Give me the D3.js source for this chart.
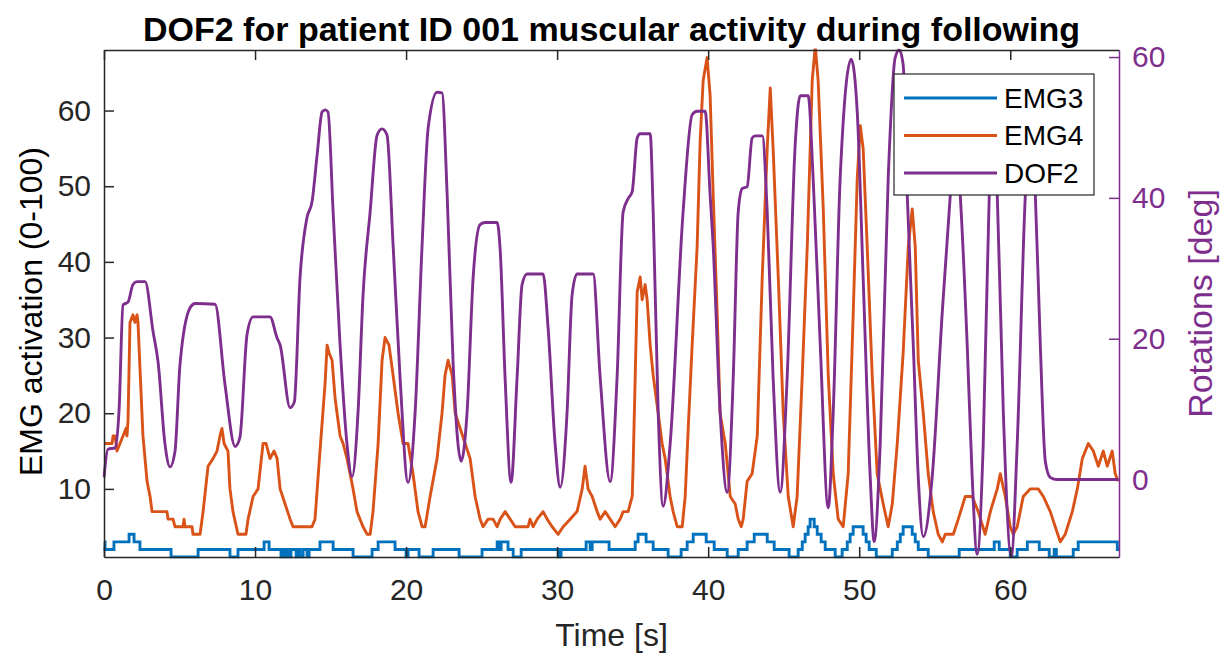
<!DOCTYPE html>
<html>
<head>
<meta charset="utf-8">
<script src="https://cdn.jsdelivr.net/npm/d3@7"></script>
<style>
  html, body { margin: 0; padding: 0; background: #fff; }
  svg text { font-family: "Liberation Sans", Arial, Helvetica, sans-serif; }
</style>
</head>
<body>
<div id="chart"></div>
<script>
// ---- data (time in s) ----
const seriesNames = ['EMG3', 'EMG4', 'DOF2'];
const seriesColors = ['#0072BD', '#D95319', '#7E2F8E'];
const xTicks = [0, 10, 20, 30, 40, 50, 60];
const leftTicks = [10, 20, 30, 40, 50, 60];
const rightTicks = [0, 20, 40, 60];

// EMG3 activation, held between samples (stair data)
const emg3 = [[0,3],[0.07,2],[0.66,3],[1.66,4],[1.99,3],[2.38,2],[4.44,1],[6.23,2],[8.34,1],[8.87,2],
  [10.60,3],[10.93,2],[11.72,1],[11.85,2],[11.99,1],[12.12,2],[12.25,1],[12.38,2],[12.72,1],[12.85,2],
  [12.98,1],[13.18,2],[13.44,1],[13.58,2],[14.30,3],[15.17,2],[16.49,1],[17.75,2],[18.15,3],[19.27,2],
  [20.0,1],[20.13,2],[20.86,1],[21.79,2],[23.51,1],[25.03,2],[26.03,3],[26.16,2],[26.29,3],[26.75,2],
  [27.09,1],[27.62,2],[30.07,1],[30.26,2],[31.92,3],[32.19,2],[32.32,3],[33.44,2],[35.17,3],[35.36,4],
  [35.89,3],[36.36,2],[37.35,1],[38.21,2],[38.61,3],[39.01,4],[39.87,3],[40.40,2],[41.26,1],[41.99,2],
  [42.58,3],[43.05,4],[43.91,3],[44.37,2],[45.36,1],[45.96,2],[46.23,3],[46.42,4],[46.62,5],[46.75,6],
  [47.02,5],[47.22,4],[47.48,3],[47.75,2],[48.41,1],[48.87,2],[49.21,3],[49.40,4],[49.60,5],[50.26,4],
  [50.46,3],[50.66,2],[51.13,1],[52.19,2],[52.52,3],[52.72,4],[52.91,5],[53.51,4],[53.71,3],[53.91,2],
  [54.57,1],[56.62,2],[58.94,3],[59.27,2],[60.0,1],[60.46,2],[61.13,3],[61.92,2],[62.58,1],[62.91,2],
  [63.05,1],[64.17,2],[64.50,3],[67.09,2],[67.2,2]];

// EMG4 activation
const emg4 = [[0,16],[0.53,16],[0.60,17],[0.73,17],[0.86,15],[1.06,16],[1.26,17],[1.46,18],[1.52,17],
  [1.59,19],[1.72,32],[1.92,33],[2.05,32],[2.19,33],[2.25,32],[2.38,26],[2.58,17],[2.85,11],[3.05,9],
  [3.18,7],[4.17,7],[4.24,6],[4.57,6],[4.70,5],[5.23,5],[5.30,6],[5.36,5],[5.83,5],[5.89,4],[6.36,4],
  [6.56,7],[6.89,13],[7.22,14],[7.48,15],[7.68,17],[7.81,18],[7.95,16],[8.21,15],[8.34,10],[8.54,7],
  [8.87,4],[9.40,4],[9.54,6],[9.87,9],[10.20,10],[10.53,16],[10.73,16],[10.99,14],[11.26,15],[11.46,14],
  [11.66,10],[11.99,8],[12.32,6],[12.52,5],[13.77,5],[13.97,6],[14.30,15],[14.64,24],[14.77,29],[14.90,28],
  [15.10,27],[15.30,22],[15.43,20],[15.63,17],[15.83,16],[16.09,14],[16.29,12],[16.49,10],[16.75,7],
  [17.15,5],[17.42,4],[17.62,4],[17.81,7],[18.15,16],[18.41,27],[18.61,30],[18.87,29],[19.14,25],
  [19.47,20],[19.80,16],[20.13,16],[20.46,12],[20.79,7],[21.06,5],[21.26,5],[21.59,9],[22.05,14],
  [22.38,20],[22.58,25],[22.78,27],[23.05,25],[23.25,20],[23.58,18],[23.91,16],[24.24,14],[24.57,9],
  [24.90,6],[25.10,5],[25.43,6],[25.76,6],[26.03,5],[26.23,6],[26.56,7],[26.89,6],[27.22,5],[28.08,5],
  [28.21,6],[28.41,5],[28.68,6],[29.07,7],[29.34,6],[29.67,5],[30.07,4],[30.40,5],[30.86,6],[31.32,7],
  [31.66,10],[31.85,13],[32.05,10],[32.32,9],[32.65,7],[32.85,6],[33.18,7],[33.51,6],[33.84,5],[34.17,6],
  [34.37,7],[34.70,7],[34.97,9],[35.03,13],[35.30,36],[35.50,38],[35.63,35],[35.83,37],[35.96,35],
  [36.16,29],[36.36,25],[36.69,20],[36.95,16],[37.15,14],[37.48,9],[37.68,7],[37.95,5],[38.28,5],
  [38.48,9],[38.68,18],[38.94,29],[39.27,42],[39.47,56],[39.67,64],[39.93,67],[40.13,62],[40.33,49],
  [40.60,33],[40.79,20],[41.13,16],[41.46,9],[41.79,8],[41.99,6],[42.19,5],[42.32,6],[42.58,11],
  [42.91,12],[43.25,17],[43.58,38],[43.91,55],[44.11,63],[44.30,55],[44.64,38],[44.97,20],[45.30,9],
  [45.63,5],[45.89,9],[46.23,25],[46.56,42],[46.89,64],[47.09,68.5],[47.28,64],[47.62,47],[47.95,25],
  [48.28,12],[48.61,6],[48.94,5],[49.27,12],[49.60,33],[49.87,51],[50.07,58],[50.26,55],[50.53,42],
  [50.86,25],[51.19,12],[51.59,8],[51.92,5],[52.19,8],[52.52,16],[52.91,28],[53.25,42],[53.51,47],
  [53.71,42],[53.91,27],[54.24,20],[54.57,12],[54.90,7],[55.23,4],[55.50,3],[55.70,4],[56.23,4],
  [56.56,6],[57.02,9],[57.48,9],[57.88,7],[58.34,4],[58.68,7],[59.14,10],[59.34,12],[59.67,9],[60.00,5],
  [60.20,4],[60.46,5],[60.86,9],[61.32,10],[61.85,10],[62.19,9],[62.65,7],[62.98,5],[63.31,3],[63.64,4],
  [64.11,7],[64.44,10],[64.77,14],[65.17,16],[65.50,15],[65.83,13],[66.16,15],[66.42,13],[66.75,15],
  [66.95,12],[67.15,11]];

// DOF2 rotation in degrees (right axis)
const dof2 = [[0,0.3],[0.26,4.3],[0.73,4.5],[1.0,10],[1.26,24.8],[1.59,25.2],[1.92,27.7],[2.19,28.1],
  [2.72,28.1],[3.25,21.0],[3.58,16.7],[4.04,5.0],[4.37,1.8],[4.7,4],[5.03,16.3],[5.70,24.4],[6.03,25.0],
  [7.35,24.9],[8.01,13.5],[8.68,4.7],[9.0,6],[9.47,20.6],[9.87,23.1],[10.99,23.1],[11.46,20.1],
  [11.66,19.1],[12.32,10.2],[12.6,11],[12.98,28.7],[13.44,37.2],[13.77,39.4],[14.11,46.1],[14.44,52.2],
  [14.64,52.5],[14.83,52.2],[15.17,38.0],[15.63,19.1],[16.09,5],[16.42,0.4],[16.82,9.6],[17.15,26.2],
  [17.62,38],[18.08,48.9],[18.41,49.8],[18.74,48.9],[19.14,33.3],[19.60,14.5],[20.13,-0.4],[20.60,9.6],
  [21.06,33.3],[21.46,49.9],[22.05,55.0],[22.38,54.9],[22.72,40.4],[23.11,16.7],[23.64,2.6],[24.04,9.6],
  [24.44,28.7],[24.90,36.2],[25.23,36.5],[26.03,36.5],[26.23,32.6],[26.56,14.2],[26.95,-0.4],[27.35,14.5],
  [27.68,27.7],[28.01,29.2],[29.07,29.2],[29.40,21.6],[29.87,5.0],[30.20,-1.1],[30.66,9.6],[30.99,26.2],
  [31.32,29.2],[32.38,29.2],[32.85,14.5],[33.51,-0.3],[33.97,14.5],[34.37,38.0],[34.70,39.9],[34.97,40.9],
  [35.30,48.5],[35.50,49.1],[36.16,49.1],[36.36,38.0],[36.69,9.6],[37.02,-3.8],[37.48,5.0],[38.34,38.0],
  [38.94,51.8],[39.27,52.3],[39.80,52.3],[40.13,40.4],[40.33,33.3],[40.79,9.6],[41.26,-1.8],[41.66,14.5],
  [41.99,38.0],[42.25,41.3],[42.58,41.6],[42.91,48.5],[43.11,48.8],[43.58,48.8],[43.91,38.0],[44.30,14.5],
  [44.77,-1.8],[45.23,14.5],[45.76,47.5],[46.09,54.5],[46.62,54.5],[46.95,42.8],[47.42,19.1],[47.95,-4.0],
  [48.28,9.6],[48.74,42.8],[49.47,59.7],[49.87,52.2],[50.26,28.7],[50.73,0.3],[50.99,-8.8],[51.39,5.0],
  [51.92,42.8],[52.38,59.9],[52.65,61.0],[52.91,58.9],[53.18,40.4],[53.58,19.1],[53.91,0.3],[54.24,-8.1],
  [54.83,0.3],[55.50,23.8],[56.03,40.4],[56.36,50],[56.69,40.4],[57.15,19.1],[57.48,0.3],[57.81,-10.6],
  [58.21,5.0],[58.61,40.4],[58.88,50],[59.14,40.4],[59.54,9.6],[60.07,-10.9],[60.46,5.0],[61.0,40.4],
  [61.33,50],[61.66,40.4],[61.99,19.1],[62.32,2.6],[62.65,0.3],[63.11,0],[67.15,0]];

// ---- layout ----
const W = 1231, H = 659;
const plot = { left: 104, right: 1119, top: 50, bottom: 557 };
const axisColor = '#262626';
const dofColor = seriesColors[2];
const lineWidth = 2.9;

const svg = d3.select('#chart').append('svg')
  .attr('width', W)
  .attr('height', H);

const x = d3.scaleLinear().domain([0, 67.2]).range([plot.left, plot.right]);
const yLeft = d3.scaleLinear().domain([1, 68]).range([plot.bottom, plot.top]);
const yRight = d3.scaleLinear().domain([-11, 61]).range([plot.bottom, plot.top]);

// clip slightly outside the box so lines on the limits keep their width
svg.append('clipPath').attr('id', 'plot-clip')
  .append('rect')
  .attr('x', plot.left - 1.5)
  .attr('y', plot.top - 1.5)
  .attr('width', plot.right - plot.left + 3)
  .attr('height', plot.bottom - plot.top + 3);

const lines = svg.append('g').attr('clip-path', 'url(#plot-clip)');

const stepLine = d3.line().x((d) => x(d[0])).y((d) => yLeft(d[1])).curve(d3.curveStepAfter);
const emgLine = d3.line().x((d) => x(d[0])).y((d) => yLeft(d[1]));
const dofLine = d3.line().x((d) => x(d[0])).y((d) => yRight(d[1])).curve(d3.curveMonotoneX);

lines.append('path').attr('d', stepLine(emg3))
  .attr('fill', 'none').attr('stroke', seriesColors[0]).attr('stroke-width', lineWidth);
lines.append('path').attr('d', emgLine(emg4))
  .attr('fill', 'none').attr('stroke', seriesColors[1]).attr('stroke-width', lineWidth)
  .attr('stroke-linejoin', 'round');
lines.append('path').attr('d', dofLine(dof2))
  .attr('fill', 'none').attr('stroke', dofColor).attr('stroke-width', lineWidth);

// ---- axes (ticks point inward, MATLAB style) ----
function styleAxis(g, color, size) {
  g.attr('font-size', size).attr('font-family', null);
  g.select('.domain').attr('stroke', color).attr('stroke-width', 1.5);
  g.selectAll('.tick line').attr('stroke', color).attr('stroke-width', 1.5);
  g.selectAll('.tick text').attr('fill', color);
}

svg.append('g')
  .attr('transform', `translate(0,${plot.bottom})`)
  .call(d3.axisBottom(x).tickValues(xTicks).tickSizeInner(-10).tickSizeOuter(0).tickPadding(22))
  .call(styleAxis, axisColor, 30);

svg.append('g')
  .attr('transform', `translate(0,${plot.top})`)
  .call(d3.axisTop(x).tickValues(xTicks).tickSizeInner(-10).tickSizeOuter(0).tickFormat(''))
  .call(styleAxis, axisColor, 30);

svg.append('g')
  .attr('transform', `translate(${plot.left},0)`)
  .call(d3.axisLeft(yLeft).tickValues(leftTicks).tickSizeInner(-10).tickSizeOuter(0).tickPadding(13))
  .call(styleAxis, axisColor, 30);

svg.append('g')
  .attr('transform', `translate(${plot.right},0)`)
  .call(d3.axisRight(yRight).tickValues(rightTicks).tickSizeInner(-10).tickSizeOuter(0).tickPadding(13))
  .call(styleAxis, dofColor, 30);

// ---- titles ----
svg.append('text')
  .attr('x', (plot.left + plot.right) / 2)
  .attr('y', 41)
  .attr('text-anchor', 'middle')
  .attr('font-size', 34)
  .attr('font-weight', 'bold')
  .attr('fill', '#000')
  .text('DOF2 for patient ID 001 muscular activity during following');

svg.append('text')
  .attr('x', (plot.left + plot.right) / 2)
  .attr('y', 646)
  .attr('text-anchor', 'middle')
  .attr('font-size', 32)
  .attr('fill', axisColor)
  .text('Time [s]');

svg.append('text')
  .attr('transform', `translate(42,${(plot.top + plot.bottom) / 2 + 8}) rotate(-90)`)
  .attr('text-anchor', 'middle')
  .attr('font-size', 32)
  .attr('fill', '#000')
  .text('EMG activation (0-100)');

svg.append('text')
  .attr('transform', `translate(1212,${(plot.top + plot.bottom) / 2}) rotate(-90)`)
  .attr('text-anchor', 'middle')
  .attr('font-size', 34)
  .attr('fill', dofColor)
  .text('Rotations [deg]');

// ---- legend ----
const legend = svg.append('g').attr('transform', 'translate(894,74)');
legend.append('rect')
  .attr('width', 200)
  .attr('height', 121)
  .attr('fill', '#fff')
  .attr('stroke', axisColor)
  .attr('stroke-width', 1.2);

const entry = legend.selectAll('g.entry')
  .data(seriesNames)
  .join('g')
  .attr('class', 'entry')
  .attr('transform', (d, i) => `translate(0,${24 + i * 37.5})`);

entry.append('line')
  .attr('x1', 10).attr('x2', 103)
  .attr('stroke', (d, i) => seriesColors[i])
  .attr('stroke-width', lineWidth);

entry.append('text')
  .attr('x', 110)
  .attr('dy', '0.35em')
  .attr('font-size', 28)
  .attr('fill', '#000')
  .text((d) => d);
</script>
</body>
</html>
